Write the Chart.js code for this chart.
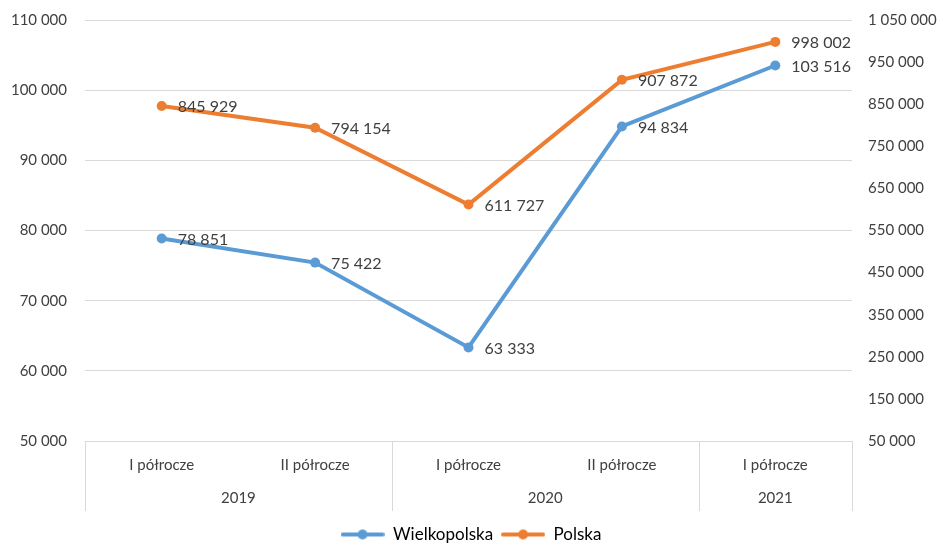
<!DOCTYPE html>
<html>
<head>
<meta charset="utf-8">
<script src="https://cdn.jsdelivr.net/npm/chart.js@4/dist/chart.umd.min.js"></script>
<style>
    html, body { margin: 0; padding: 0; background: #fff; }
</style>
</head>
<body>
<canvas id="chart" width="942" height="544"></canvas>
<script>
// Categories
const halfYears = ['I półrocze', 'II półrocze', 'I półrocze', 'II półrocze', 'I półrocze'];
const years = ['2019', '2020', '2021'];
const yearSpans = [2, 2, 1];

// Series values
const wielkopolska = [78851, 75422, 63333, 94834, 103516];
const polska = [845929, 794154, 611727, 907872, 998002];

// Axis ranges
const leftMin = 50000, leftMax = 110000, leftStep = 10000;
const rightMin = 50000, rightMax = 1050000, rightStep = 100000;

const BLUE = '#5B9BD5';
const ORANGE = '#ED7D31';
const TEXT = '#404040';
const GRID = '#D9D9D9';
const FONT = 'Lato, "Open Sans", sans-serif';

// "78851" -> "78 851"
function fmt(v) {
    return String(v).replace(/\B(?=(\d{3})+(?!\d))/g, ' ');
}

// Legend marker: short line with a dot in the middle
function legendMarker(color) {
    const c = document.createElement('canvas');
    c.width = 44;
    c.height = 12;
    const g = c.getContext('2d');
    g.strokeStyle = color;
    g.lineWidth = 4;
    g.lineCap = 'round';
    g.beginPath();
    g.moveTo(2, 6);
    g.lineTo(42, 6);
    g.stroke();
    g.fillStyle = color;
    g.beginPath();
    g.arc(22, 6, 5, 0, Math.PI * 2);
    g.fill();
    return c;
}

// keep the value axes from pushing the plot area down
function fitSide(width) {
    return (scale) => {
        scale.width = width;
        scale.paddingTop = 9;
        scale.paddingBottom = 9;
    };
}

// Year row + separators under the category axis
const groupAxis = {
    id: 'groupAxis',
    afterDraw(chart) {
        const ctx = chart.ctx;
        const x = chart.scales.x;
        const top = chart.chartArea.bottom;
        const w = (x.right - x.left) / halfYears.length;
        ctx.save();
        ctx.strokeStyle = GRID;
        ctx.lineWidth = 1;
        ctx.fillStyle = TEXT;
        ctx.font = '15px ' + FONT;
        ctx.textAlign = 'center';
        ctx.textBaseline = 'middle';
        let idx = 0;
        const edges = [0];
        yearSpans.forEach((span, i) => {
            const from = x.left + idx * w;
            const to = x.left + (idx + span) * w;
            ctx.fillText(years[i], (from + to) / 2, top + 57);
            idx += span;
            edges.push(idx);
        });
        edges.forEach(e => {
            const px = Math.round(x.left + e * w) + 0.5;
            ctx.beginPath();
            ctx.moveTo(px, top);
            ctx.lineTo(px, top + 70);
            ctx.stroke();
        });
        ctx.restore();
    }
};

// Value labels to the right of each point
const valueLabels = {
    id: 'valueLabels',
    afterDatasetsDraw(chart) {
        const ctx = chart.ctx;
        ctx.save();
        ctx.fillStyle = TEXT;
        ctx.font = '16px ' + FONT;
        ctx.textAlign = 'left';
        ctx.textBaseline = 'middle';
        chart.data.datasets.forEach((ds, di) => {
            const meta = chart.getDatasetMeta(di);
            meta.data.forEach((pt, i) => {
                ctx.fillText(fmt(ds.data[i]), pt.x + 16, pt.y + 1);
            });
        });
        ctx.restore();
    }
};

const ctx = document.getElementById('chart').getContext('2d');
const chart = new Chart(ctx, {
    type: 'line',
    data: {
        labels: halfYears,
        datasets: [
            {
                label: 'Wielkopolska',
                data: wielkopolska,
                yAxisID: 'y',
                borderColor: BLUE,
                backgroundColor: BLUE,
                borderWidth: 4,
                pointRadius: 5,
                pointBorderWidth: 0,
                tension: 0
            },
            {
                label: 'Polska',
                data: polska,
                yAxisID: 'y1',
                borderColor: ORANGE,
                backgroundColor: ORANGE,
                borderWidth: 4,
                pointRadius: 5,
                pointBorderWidth: 0,
                tension: 0
            }
        ]
    },
    options: {
        responsive: false,
        animation: false,
        layout: {
            padding: { top: 20, left: 0, right: 0, bottom: -9 }
        },
        scales: {
            x: {
                offset: true,
                grid: { display: false, drawTicks: false },
                border: { display: false },
                ticks: {
                    color: TEXT,
                    font: { family: FONT, size: 15 },
                    padding: 15,
                    maxRotation: 0
                },
                afterFit: (scale) => { scale.height = 77; }
            },
            y: {
                position: 'left',
                min: leftMin,
                max: leftMax,
                grid: { color: GRID, drawTicks: false },
                border: { display: false },
                ticks: {
                    stepSize: leftStep,
                    color: TEXT,
                    font: { family: FONT, size: 15 },
                    padding: 18,
                    callback: (v) => fmt(v)
                },
                afterFit: fitSide(85)
            },
            y1: {
                position: 'right',
                min: rightMin,
                max: rightMax,
                grid: { display: false, drawTicks: false },
                border: { display: false },
                ticks: {
                    stepSize: rightStep,
                    color: TEXT,
                    font: { family: FONT, size: 15 },
                    padding: 16,
                    callback: (v) => fmt(v)
                },
                afterFit: fitSide(90)
            }
        },
        plugins: {
            legend: {
                position: 'bottom',
                labels: {
                    color: TEXT,
                    font: { family: FONT, size: 17 },
                    usePointStyle: true,
                    pointStyleWidth: 44,
                    padding: 8,
                    generateLabels: (chart) => chart.data.datasets.map((ds, i) => ({
                        text: ds.label,
                        pointStyle: legendMarker(ds.borderColor),
                        fillStyle: ds.borderColor,
                        strokeStyle: ds.borderColor,
                        lineWidth: 0,
                        datasetIndex: i
                    }))
                }
            },
            tooltip: { enabled: false }
        }
    },
    plugins: [groupAxis, valueLabels]
});
</script>
</body>
</html>
